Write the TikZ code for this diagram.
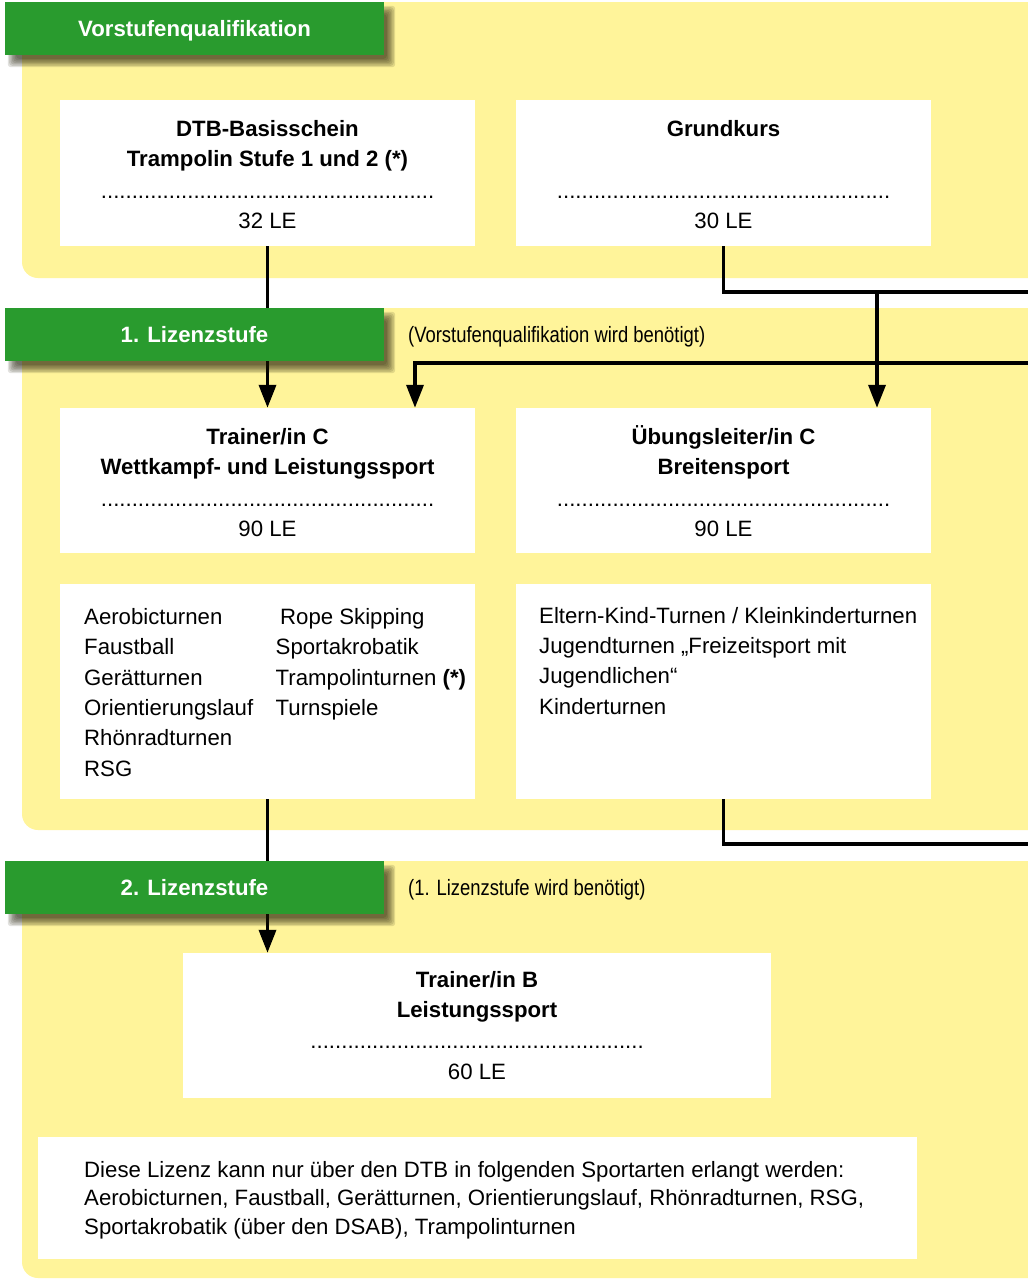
\documentclass[tikz,border=0pt]{standalone}
\usepackage{fontspec}
\setmainfont{Liberation Sans}
\newfontfamily\narrowfont[FakeStretch=0.83]{Liberation Sans}
\usetikzlibrary{arrows.meta}
\definecolor{panelyellow}{RGB}{255,244,154}
\definecolor{headgreen}{RGB}{41,155,46}
\definecolor{shadowcol}{RGB}{30,25,5}
\newcommand\dotrow{......................................................}
\newcommand\headshadow[1]{%
  \foreach \k in {0,...,6}{%
    \pgfmathsetmacro\dd{(\k-3)*1.4}%
    \fill[shadowcol,opacity=0.13,rounded corners=3pt] (12+\dd,#1+8+\dd) rectangle (391-\dd,#1+61-\dd);
  }}
\begin{document}
\begin{tikzpicture}[x=1pt,y=-1pt,
  panel/.style={fill=panelyellow, rounded corners=16pt},
  wbox/.style={fill=white, inner sep=0pt, minimum width=415pt},
  head/.style={fill=headgreen, text=white, font=\bfseries\fontsize{22.2}{26}\selectfont,
    minimum width=379pt, minimum height=53pt, inner sep=0pt, text height=16pt, text depth=0pt},
  title/.style={anchor=base, inner sep=0pt, font=\bfseries\fontsize{22.2}{26}\selectfont},
  body/.style={anchor=base, inner sep=0pt, font=\fontsize{22.2}{26}\selectfont},
  item/.style={anchor=base west, inner sep=0pt, font=\fontsize{22.2}{26}\selectfont},
  hint/.style={anchor=base west, inner sep=0pt, font=\narrowfont\fontsize{22.2}{26}\selectfont},
  conn/.style={line width=3.5pt},
  arr/.style={conn, -{Triangle[length=23pt,width=17pt]}}
]
\useasboundingbox (0,0) rectangle (1028,1286);
\clip (0,0) rectangle (1028,1286);
\fill[white] (0,0) rectangle (1028,1286);

% panels
\fill[panel] (22,2) rectangle (1070,278);
\fill[panel] (22,308) rectangle (1070,830);
\fill[panel] (22,861) rectangle (1070,1278);

% white boxes
\node[wbox, minimum height=146pt] (dtb) at (267.5,173) {};
\node[wbox, minimum height=146pt] (grund) at (723.5,173) {};
\node[wbox, minimum height=145pt] (trainerC) at (267.5,480.5) {};
\node[wbox, minimum height=145pt] (ubung) at (723.5,480.5) {};
\node[wbox, minimum height=215pt] (trList) at (267.5,691.5) {};
\node[wbox, minimum height=215pt] (ubList) at (723.5,691.5) {};
\node[wbox, minimum width=588pt, minimum height=145pt] (trainerB) at (477,1025.5) {};
\node[wbox, minimum width=879pt, minimum height=122pt] (note) at (477.5,1197.5) {};

% connectors
\coordinate (gkBranch) at (877,292);
\coordinate (gkEnd) at (1070,292);
\coordinate (vqIn) at (1070,363);
\coordinate (vqTurn) at (415,363);
\coordinate (ubEnd) at (1070,844);
\draw[conn] (grund.south) |- (gkEnd);
\draw[arr] (gkBranch) -- (gkBranch |- ubung.north);
\draw[arr] (vqIn) -- (vqTurn) -- (vqTurn |- trainerC.north);
\draw[arr] (dtb.south) -- (trainerC.north);
\draw[conn] (ubList.south) |- (ubEnd);
\draw[arr] (trList.south) -- (trList.south |- trainerB.north);

% header shadows
\headshadow{2}
\headshadow{308}
\headshadow{861}

% headers
\node[head] (h1) at (194.5,28.5) {Vorstufenqualifikation};
\node[head] (h2) at (194.5,334.5) {1. Lizenzstufe};
\node[head] (h3) at (194.5,887.5) {2. Lizenzstufe};
\node[hint] (hint2) at (408,342) {(Vorstufenqualifikation wird benötigt)};
\node[hint] (hint3) at (408,895) {(1. Lizenzstufe wird benötigt)};

% DTB box
\node[title] (dtbT1) at (267.5,136) {DTB-Basisschein};
\node[title] (dtbT2) at (267.5,166) {Trampolin Stufe 1 und 2 (*)};
\node[body] (dtbD) at (267.5,198) {\dotrow};
\node[body] (dtbL) at (267.5,228) {32 LE};
% Grundkurs box
\node[title] (gkT1) at (723.5,136) {Grundkurs};
\node[body] (gkD) at (723.5,198) {\dotrow};
\node[body] (gkL) at (723.5,228) {30 LE};
% Trainer C
\node[title] (tcT1) at (267.5,444) {Trainer/in C};
\node[title] (tcT2) at (267.5,474) {Wettkampf- und Leistungssport};
\node[body] (tcD) at (267.5,506) {\dotrow};
\node[body] (tcL) at (267.5,536) {90 LE};
% Uebungsleiter C
\node[title] (ulT1) at (723.5,444) {Übungsleiter/in C};
\node[title] (ulT2) at (723.5,474) {Breitensport};
\node[body] (ulD) at (723.5,506) {\dotrow};
\node[body] (ulL) at (723.5,536) {90 LE};
% Trainer B
\node[title] (tbT1) at (477,987) {Trainer/in B};
\node[title] (tbT2) at (477,1017) {Leistungssport};
\node[body] (tbD) at (477,1048) {\dotrow};
\node[body] (tbL) at (477,1079) {60 LE};

% left list
\node[item] (l1) at (84,624) {Aerobicturnen};
\node[item] (l2) at (84,654.5) {Faustball};
\node[item] (l3) at (84,685) {Gerätturnen};
\node[item] (l4) at (84,715) {Orientierungslauf};
\node[item] (l5) at (84,745.5) {Rhönradturnen};
\node[item] (l6) at (84,776) {RSG};
\node[item] (r1) at (280,624) {Rope Skipping};
\node[item] (r2) at (275.5,654.5) {Sportakrobatik};
\node[item] (r3) at (275.5,685) {Trampolinturnen \textbf{(*)}};
\node[item] (r4) at (275.5,715) {Turnspiele};
% right list
\node[item] (u1) at (539,623) {Eltern-Kind-Turnen / Kleinkinderturnen};
\node[item] (u2) at (539,653) {Jugendturnen „Freizeitsport mit};
\node[item] (u3) at (539,683.5) {Jugendlichen“};
\node[item] (u4) at (539,714) {Kinderturnen};

% note
\node[item] (n1) at (84,1177.5) {Diese Lizenz kann nur über den DTB in folgenden Sportarten erlangt werden:};
\node[item] (n2) at (84,1205.5) {Aerobicturnen, Faustball, Gerätturnen, Orientierungslauf, Rhönradturnen, RSG,};
\node[item] (n3) at (84,1234) {Sportakrobatik (über den DSAB), Trampolinturnen};
\end{tikzpicture}
\end{document}
